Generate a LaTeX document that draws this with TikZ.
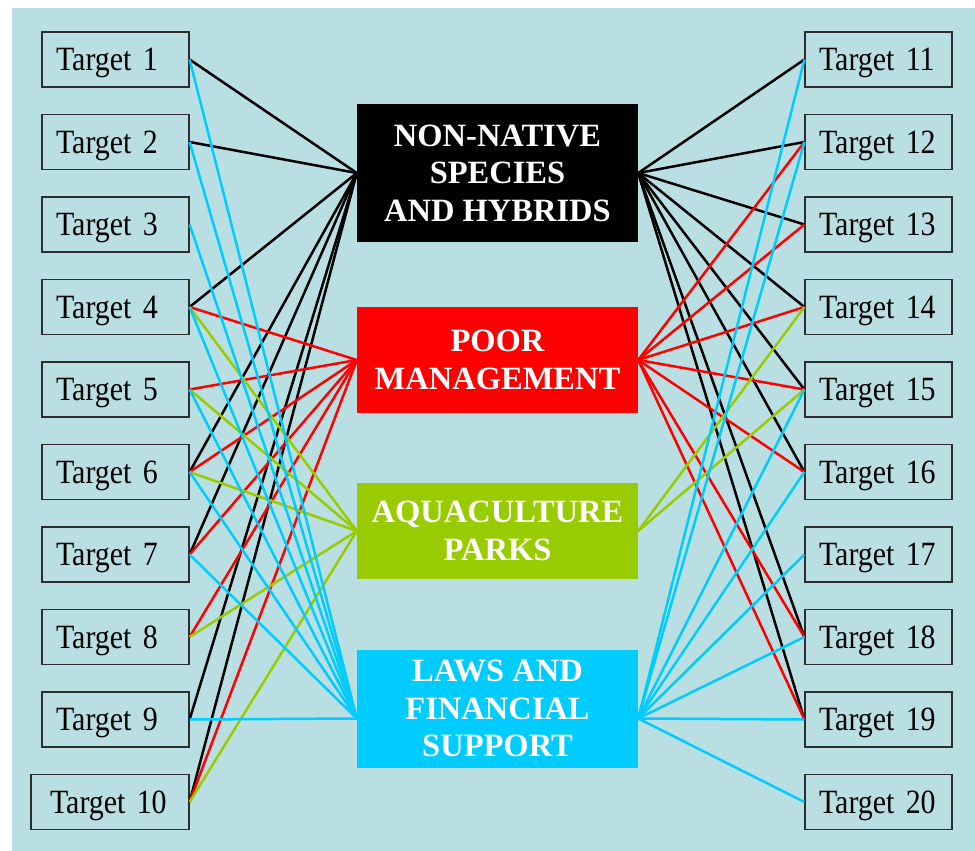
\documentclass[tikz,border=0pt]{standalone}
\usepackage{fontspec}
\setmainfont{Liberation Serif}
\newfontfamily\tgtfont[FakeStretch=0.88]{Liberation Serif}
\definecolor{bgc}{RGB}{186,223,227}
\definecolor{nnc}{RGB}{0,0,0}
\definecolor{pmc}{RGB}{255,0,0}
\definecolor{apc}{RGB}{153,204,0}
\definecolor{lfc}{RGB}{0,204,255}
\definecolor{boxline}{RGB}{45,45,45}
\begin{document}
\begin{tikzpicture}[x=1pt,y=-1pt,
  tbox/.style={draw=boxline, line width=1.2pt, minimum height=55pt,
    inner xsep=14pt, inner ysep=0pt, text width=119pt, align=left,
    text depth=0pt, font=\tgtfont\fontsize{34}{34}\selectfont},
  cbox/.style={minimum width=281pt, align=center, text=white, inner sep=0pt,
    font=\fontsize{32.5}{37.5}\selectfont\bfseries},
  link/.style={line width=2.5pt}]
\useasboundingbox (0,0) rectangle (975,851);
\fill[bgc] (12,8) rectangle (975,851);

% left targets
\foreach \i in {1,...,9}{
  \node[tbox] (T\i) at (115.5,{59.5+82.5*(\i-1)}) {\mbox{Target \i}};
}
\node[tbox, inner xsep=19pt, text width=120pt] (T10) at (110,802) {\mbox{Target 10}};
% right targets
\foreach \i in {11,...,20}{
  \node[tbox] (T\i) at (878.5,{59.5+82.5*(\i-11)}) {\mbox{Target \i}};
}

% central boxes
\node[cbox, fill=nnc, minimum height=138pt] (nn) at (497.5,173) {NON-NATIVE\\SPECIES\\AND HYBRIDS};
\node[cbox, fill=pmc, minimum height=106pt] (pm) at (497.5,360) {POOR\\MANAGEMENT};
\node[cbox, fill=apc, minimum height=96pt] (ap) at (497.5,531) {AQUACULTURE\\PARKS};
\node[cbox, fill=lfc, minimum height=118pt] (lf) at (497.5,708.5) {LAWS AND\\FINANCIAL\\SUPPORT};
\coordinate (lfL) at ([yshift=-10pt]lf.west);
\coordinate (lfR) at ([yshift=-10pt]lf.east);

% left connectors
\foreach \t in {1,2,4,6,7,9,10} \draw[link,nnc] (T\t.east) -- (nn.west);
\foreach \t in {4,5,6,7,8,10} \draw[link,pmc] (T\t.east) -- (pm.west);
\foreach \t in {4,5,6,8,10} \draw[link,apc] (T\t.east) -- (ap.west);
\foreach \t in {1,2,3,4,5,6,7,9} \draw[link,lfc] (T\t.east) -- (lfL);

% right connectors
\foreach \t in {11,12,13,14,15,16,18,19} \draw[link,nnc] (nn.east) -- (T\t.west);
\foreach \t in {12,13,14,15,16,18,19} \draw[link,pmc] (pm.east) -- (T\t.west);
\foreach \t in {14,15} \draw[link,apc] (ap.east) -- (T\t.west);
\foreach \t in {11,12,15,16,17,18,19,20} \draw[link,lfc] (lfR) -- (T\t.west);
\end{tikzpicture}
\end{document}
